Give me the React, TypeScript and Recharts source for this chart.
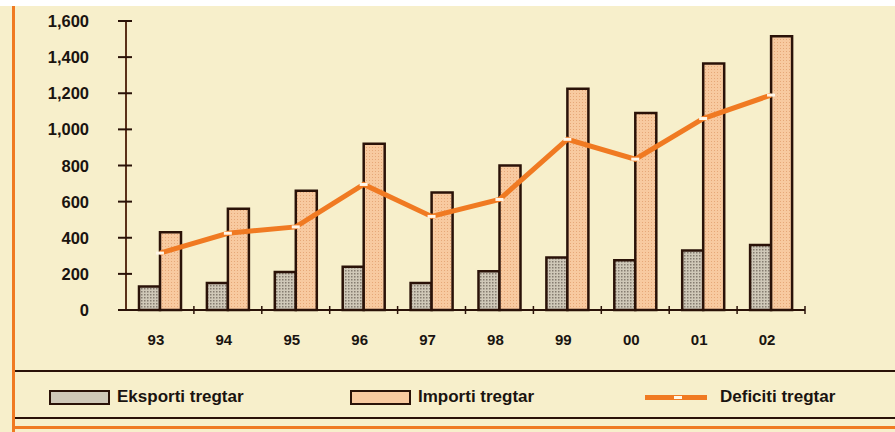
import { ComposedChart, Bar, Line, XAxis, YAxis } from "recharts";

const years = ["93", "94", "95", "96", "97", "98", "99", "00", "01", "02"];
const eksporti = [130, 150, 210, 240, 150, 215, 290, 275, 330, 360];
const importi = [430, 560, 660, 920, 650, 800, 1225, 1090, 1365, 1515];
const deficiti = [315, 425, 460, 695, 518, 612, 945, 835, 1060, 1190];
const yTicks = [0, 200, 400, 600, 800, 1000, 1200, 1400, 1600];

const data = years.map((y, i) => ({
  year: y,
  eksporti: eksporti[i],
  importi: importi[i],
  deficiti: deficiti[i],
}));

const W = 895;
const H = 432;
const Y_W = 126;
const RIGHT = 90;
const band = (W - Y_W - RIGHT) / years.length;

const dark = "#2a1208";
const orange = "#f07a22";
const font = "'Liberation Sans', Arial, sans-serif";

const fmt = (v: number) => v.toLocaleString("en-US");

const YTick = (props: any) => {
  const { x, y, payload } = props;
  return (
    <g>
      <line x1={x - 8} x2={x + 6} y1={y} y2={y} stroke={dark} strokeWidth={2} />
      <text x={x - 37} y={y} dy={6} textAnchor="end" fontFamily={font} fontWeight="bold" fontSize={16.5} fill="#1a1410">
        {fmt(payload.value)}
      </text>
    </g>
  );
};

const XTick = (props: any) => {
  const { x, y, payload } = props;
  return (
    <g>
      <line x1={x + band / 2} x2={x + band / 2} y1={y - 4} y2={y + 4} stroke={dark} strokeWidth={1.5} />
      <text x={x - 4} y={y + 35} textAnchor="middle" fontFamily={font} fontWeight="bold" fontSize={15} fill="#1a1410">
        {payload.value}
      </text>
    </g>
  );
};

const Dash = (props: any) => {
  const { cx, cy } = props;
  if (cx == null || cy == null) return null;
  return <rect x={cx - 4} y={cy - 1.5} width={8} height={3} fill="#fff6e8" />;
};

const swatch = (bg: string) => ({
  width: 57,
  height: 11,
  border: `2px solid ${dark}`,
  background: bg,
  marginRight: 7,
});

const legendRow = { position: "absolute" as const, top: 387, display: "flex", alignItems: "center", fontWeight: "bold" as const, fontSize: 17, color: "#1a1410" };

export default function App() {
  return (
    <div style={{ position: "fixed", left: 0, top: 0, width: W, height: H, background: "#f7efcb", overflow: "hidden", fontFamily: font }}>
      <div style={{ position: "absolute", left: 0, top: 0, width: W, height: 6, background: "#ffffff" }} />
      <div style={{ position: "absolute", left: 12, top: 6, width: 3, height: H - 6, background: orange }} />
      <div style={{ position: "absolute", left: 15, top: 370, width: W - 15, height: 2, background: dark }} />
      <div style={{ position: "absolute", left: 15, top: 417, width: W - 15, height: 2, background: dark }} />
      <div style={{ position: "absolute", left: 15, top: 426, width: W - 15, height: 3, background: orange }} />

      <div style={{ position: "absolute", left: 0, top: 0 }}>
        <ComposedChart width={W} height={H} data={data} margin={{ top: 21, right: RIGHT, bottom: 0, left: 0 }} barGap={0} barSize={21}>
          <defs>
            <pattern id="dotsGray" width="3" height="3" patternUnits="userSpaceOnUse">
              <rect width="3" height="3" fill="#cfc8b8" />
              <rect width="1.5" height="1.5" fill="#857c70" />
            </pattern>
            <pattern id="dotsPeach" width="3" height="3" patternUnits="userSpaceOnUse">
              <rect width="3" height="3" fill="#f8caa0" />
              <rect width="1" height="1" fill="#e6a878" />
            </pattern>
          </defs>
          <XAxis
            dataKey="year"
            height={122}
            tickSize={0}
            tickMargin={0}
            tickLine={false}
            interval={0}
            axisLine={{ stroke: dark, strokeWidth: 2 }}
            tick={<XTick />}
          />
          <YAxis
            width={Y_W}
            domain={[0, 1600]}
            ticks={yTicks}
            tickSize={0}
            tickMargin={0}
            tickLine={false}
            axisLine={{ stroke: "#5a3018", strokeWidth: 2 }}
            tick={<YTick />}
          />
          <Bar dataKey="eksporti" name="Eksporti tregtar" fill="url(#dotsGray)" stroke={dark} strokeWidth={2.5} isAnimationActive={false} />
          <Bar dataKey="importi" name="Importi tregtar" fill="url(#dotsPeach)" stroke={dark} strokeWidth={2.5} isAnimationActive={false} />
          <Line
            dataKey="deficiti"
            name="Deficiti tregtar"
            type="linear"
            stroke={orange}
            strokeWidth={5}
            dot={<Dash />}
            activeDot={false}
            isAnimationActive={false}
          />
        </ComposedChart>
      </div>

      <div style={{ ...legendRow, left: 49 }}>
        <div style={swatch("#cfc8b8")} />
        <span>Eksporti tregtar</span>
      </div>
      <div style={{ ...legendRow, left: 350 }}>
        <div style={swatch("#f8caa0")} />
        <span>Importi tregtar</span>
      </div>
      <div style={{ ...legendRow, left: 645 }}>
        <div style={{ position: "relative", width: 62, height: 5, background: orange, marginRight: 13 }}>
          <div style={{ position: "absolute", left: 29, top: 1, width: 8, height: 3, background: "#fff6e8" }} />
        </div>
        <span>Deficiti tregtar</span>
      </div>
    </div>
  );
}
